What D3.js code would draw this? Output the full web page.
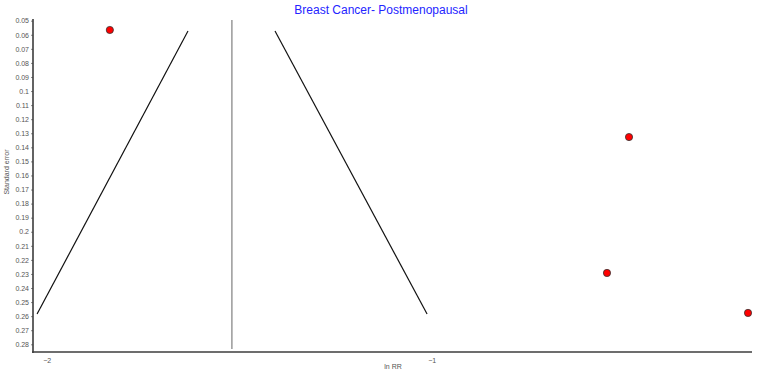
<!DOCTYPE html>
<html><head><meta charset="utf-8">
<script src="https://cdn.jsdelivr.net/npm/d3@7"></script>
<style>body{margin:0;background:#fff}svg{display:block}</style>
</head><body>
<svg id="c" width="758" height="374"></svg>
<script>
// Study points (ln RR, standard error)
const lnRR = [-1.836, -0.4875, -0.5447, -0.1784];
const se = [0.0566, 0.1327, 0.2293, 0.2577];
// Pooled estimate (vertical line)
const pooled = -1.519;
// Funnel limits (bottom point, top point)
const funnelLeftX = [-2.025, -1.633];
const funnelRightX = [-1.012, -1.407];
const funnelSE = [0.2585, 0.0573];
// Tick labels
const yTicks = d3.range(5, 29).map(v => v / 100);
const xTicks = [-2, -1];

const svg = d3.select("#c");
const x = d3.scaleLinear().domain([-2, -1]).range([46.7, 431.7]);
const y = d3.scaleLinear().domain([0.05, 0.28]).range([20.7, 344.3]);

const axisColor = "#3c3c3c";
const font = "Arial, 'Liberation Sans', sans-serif";

// title
svg.append("text").attr("x", 381).attr("y", 14).attr("text-anchor", "middle")
  .attr("font-family", font).attr("font-size", 12).attr("fill", "#2424ff")
  .text("Breast Cancer- Postmenopausal");

// y axis
const yAxis = d3.axisLeft(y).tickValues(yTicks).tickSize(2).tickPadding(2)
  .tickFormat(d => d3.format("")(+d.toFixed(2)));
const gy = svg.append("g").attr("transform", "translate(33,0)").call(yAxis);
gy.select(".domain").remove();
gy.selectAll(".tick line").attr("stroke", "#888");
gy.selectAll("text").attr("font-family", font).attr("font-size", 7).attr("fill", "#555");
svg.append("line").attr("x1", 33).attr("x2", 33).attr("y1", 19).attr("y2", 353)
  .attr("stroke", axisColor).attr("stroke-width", 1.6);

// x axis
const xAxis = d3.axisBottom(x).tickValues(xTicks).tickSize(0).tickPadding(6).tickFormat(d3.format(""));
const gx = svg.append("g").attr("transform", "translate(0,352)").call(xAxis);
gx.select(".domain").remove();
gx.selectAll("text").attr("font-family", font).attr("font-size", 7).attr("fill", "#555");
svg.append("line").attr("x1", 32).attr("x2", 752).attr("y1", 352).attr("y2", 352)
  .attr("stroke", axisColor).attr("stroke-width", 1.6);

// axis labels
svg.append("text").attr("x", 393).attr("y", 369).attr("text-anchor", "middle")
  .attr("font-family", font).attr("font-size", 7).attr("fill", "#555").text("ln RR");
svg.append("text").attr("transform", "translate(9,172) rotate(-90)").attr("text-anchor", "middle")
  .attr("font-family", font).attr("font-size", 7).attr("fill", "#555").text("Standard error");

// pooled line
svg.append("line").attr("x1", x(pooled)).attr("x2", x(pooled)).attr("y1", 20).attr("y2", 349)
  .attr("stroke", "#999").attr("stroke-width", 1.5);

// funnel lines
const line = d3.line().x(d => x(d[0])).y(d => y(d[1]));
svg.append("path").datum(funnelLeftX.map((v, i) => [v, funnelSE[i]]))
  .attr("d", line).attr("fill", "none").attr("stroke", "#111").attr("stroke-width", 1.2);
svg.append("path").datum(funnelRightX.map((v, i) => [v, funnelSE[i]]))
  .attr("d", line).attr("fill", "none").attr("stroke", "#111").attr("stroke-width", 1.2);

// points
svg.selectAll("circle.pt").data(lnRR).enter().append("circle").attr("class", "pt")
  .attr("cx", d => x(d)).attr("cy", (d, i) => y(se[i])).attr("r", 3.6)
  .attr("fill", "#ff0000").attr("stroke", "#333").attr("stroke-width", 0.8);
</script>
</body></html>
